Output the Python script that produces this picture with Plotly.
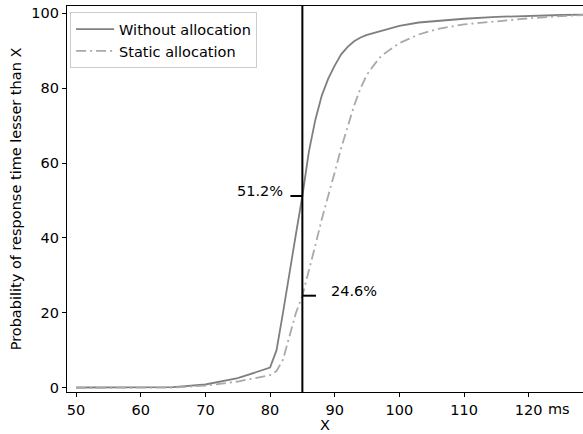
import plotly.graph_objects as go

# Response time samples (ms) and cumulative probabilities (%)
response_ms = [50, 55, 60, 65, 70, 75, 80, 81, 82, 83, 84, 85, 86, 87, 88, 89, 90,
               91, 92, 93, 94, 95, 96, 97, 98, 100, 103, 106, 110, 115, 120, 125, 128.5]
without_alloc = [0.1, 0.1, 0.1, 0.2, 0.9, 2.6, 5.4, 10.0, 20.0, 31.0, 41.0, 51.2, 63.0,
                 71.5, 78.0, 82.5, 86.0, 89.0, 91.0, 92.5, 93.5, 94.2, 94.7, 95.2, 95.8,
                 96.6, 97.5, 98.0, 98.5, 99.0, 99.3, 99.5, 99.6]
static_alloc = [0.0, 0.0, 0.0, 0.1, 0.6, 1.7, 3.4, 4.5, 7.5, 14.0, 20.0, 24.6, 31.0,
                38.0, 45.0, 51.0, 57.5, 64.0, 69.7, 75.3, 80.0, 83.6, 86.0, 88.2, 89.6,
                92.0, 94.3, 95.8, 97.0, 97.9, 98.6, 99.2, 99.5]

threshold_ms = 85
mark_without = 51.2
mark_static = 24.6

x_ticks = [50, 60, 70, 80, 90, 100, 110, 120]
y_ticks = [0, 20, 40, 60, 80, 100]

FONT = "DejaVu Sans"
FS = 14.5

fig = go.Figure()
fig.add_trace(go.Scatter(
    x=response_ms, y=without_alloc, mode="lines", name="Without allocation",
    line=dict(color="#7f7f7f", width=1.8),
))
fig.add_trace(go.Scatter(
    x=response_ms, y=static_alloc, mode="lines", name="Static allocation",
    line=dict(color="#a9a9a9", width=1.8, dash="10px,4px,2px,4px"),
))

# Threshold line and value markers
fig.add_shape(type="line", xref="x", yref="paper", x0=threshold_ms, x1=threshold_ms,
              y0=0, y1=1, line=dict(color="black", width=2))
fig.add_shape(type="line", xref="x", yref="y", x0=threshold_ms - 1.85, x1=threshold_ms,
              y0=mark_without, y1=mark_without, line=dict(color="black", width=2))
fig.add_shape(type="line", xref="x", yref="y", x0=threshold_ms, x1=threshold_ms + 2.1,
              y0=mark_static, y1=mark_static, line=dict(color="black", width=2))

fig.add_annotation(x=threshold_ms - 2.7, y=mark_without + 1.3, xref="x", yref="y",
                   text=f"{mark_without}%", showarrow=False, xanchor="right",
                   font=dict(family=FONT, size=FS, color="black"))
fig.add_annotation(x=threshold_ms + 4.1, y=mark_static + 1.3, xref="x", yref="y",
                   text=f"{mark_static}%", showarrow=False, xanchor="left",
                   font=dict(family=FONT, size=FS, color="black"))
# Unit label on the time axis
fig.add_annotation(x=124.7, y=0, xref="x", yref="paper", yanchor="top", yshift=-7,
                   text="ms", showarrow=False,
                   font=dict(family=FONT, size=FS, color="black"))

fig.update_layout(
    width=583, height=434,
    margin=dict(l=67, r=0, t=6, b=42),
    plot_bgcolor="white", paper_bgcolor="white",
    font=dict(family=FONT, size=FS, color="black"),
    showlegend=True,
    legend=dict(
        x=0.006, y=0.984, xanchor="left", yanchor="top",
        bgcolor="white", bordercolor="#cccccc", borderwidth=1,
        font=dict(family=FONT, size=FS, color="black"),
        tracegroupgap=0, itemwidth=38,
    ),
    xaxis=dict(
        range=[48.6, 128.4], tickmode="array", tickvals=x_ticks,
        ticktext=[str(v) for v in x_ticks],
        showgrid=False, zeroline=False, showline=True, mirror=True,
        linecolor="black", linewidth=1.2,
        ticks="outside", ticklen=4, tickcolor="black",
        title=dict(text="X", standoff=3, font=dict(family=FONT, size=FS)),
    ),
    yaxis=dict(
        range=[-1.1, 101.9], tickmode="array", tickvals=y_ticks,
        showgrid=False, zeroline=False, showline=True,
        linecolor="black", linewidth=1.2,
        ticks="outside", ticklen=4, tickcolor="black",
        title=dict(text="Probability of response time lesser than X", standoff=6,
                   font=dict(family=FONT, size=FS)),
    ),
)

fig.write_html("out.html")
